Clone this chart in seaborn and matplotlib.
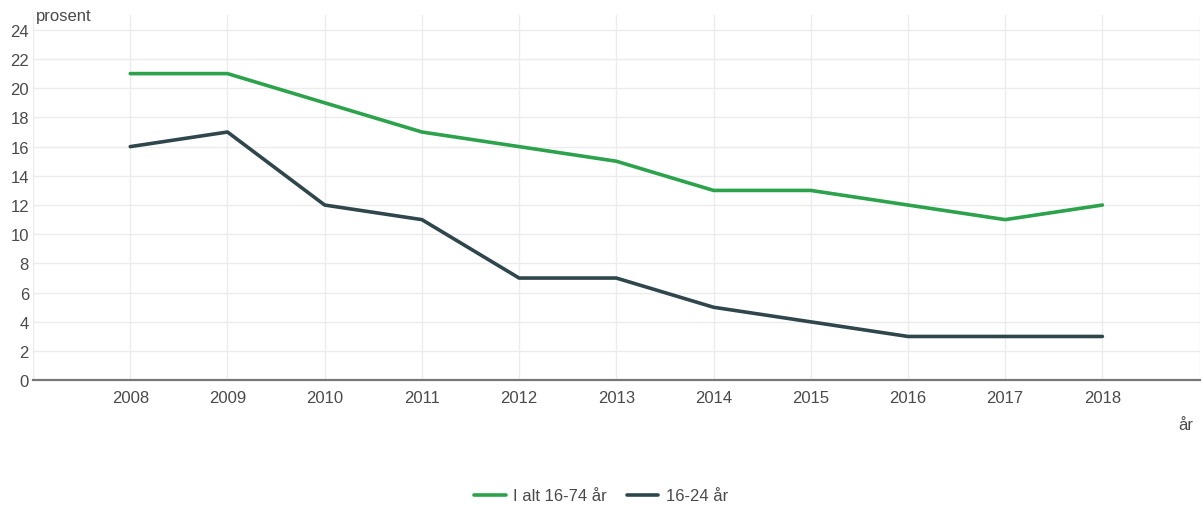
import matplotlib
matplotlib.use("Agg")
import matplotlib.pyplot as plt
import seaborn as sns
import pandas as pd

years = [2008, 2009, 2010, 2011, 2012, 2013, 2014, 2015, 2016, 2017, 2018]
total_16_74 = [21, 21, 19, 17, 16, 15, 13, 13, 12, 11, 12]
young_16_24 = [16, 17, 12, 11, 7, 7, 5, 4, 3, 3, 3]
series_names = ["I alt 16-74 år", "16-24 år"]
colors = ["#2ca24c", "#2f464c"]

df = pd.DataFrame({"år": years, series_names[0]: total_16_74, series_names[1]: young_16_24})
long = df.melt(id_vars="år", var_name="serie", value_name="prosent")

sns.set_style("white")
plt.rcParams["font.family"] = ["Liberation Sans", "DejaVu Sans"]
text_color = "#4a4a4a"
fs = 12

fig = plt.figure(figsize=(12.02, 5.06), dpi=100)
ax = fig.add_axes([0.0275, 0.2465, 0.9705, 0.7215])

sns.lineplot(data=long, x="år", y="prosent", hue="serie", palette=colors,
             linewidth=2.6, ax=ax, legend=False)

ax.set_xlim(2007, 2019)
ax.set_ylim(0, 25)
ax.set_xticks(range(2007, 2020))
ax.set_xticklabels([""] + [str(y) for y in years] + [""])
ax.set_yticks(range(0, 25, 2))
ax.grid(True, color="#ececec", linewidth=1)
ax.tick_params(axis="both", length=0, labelsize=fs, colors=text_color, pad=3)
ax.tick_params(axis="x", pad=7)
for s in ["top", "right", "left"]:
    ax.spines[s].set_visible(False)
ax.spines["bottom"].set_color("#777777")
ax.spines["bottom"].set_linewidth(1.6)
ax.set_xlabel("")
ax.set_ylabel("")

fig.text(36 / 1202, 1 - 17 / 506, "prosent", fontsize=fs, color=text_color, va="center", ha="left")
fig.text(1186 / 1202, 1 - 426 / 506, "år", fontsize=fs, color=text_color, va="center", ha="center")

handles = [plt.Line2D([], [], color=c, linewidth=2.6) for c in colors]
fig.legend(handles, series_names, loc="center", bbox_to_anchor=(0.5, 1 - 497 / 506),
           ncol=2, frameon=False, fontsize=fs, labelcolor=text_color,
           handlelength=1.9, columnspacing=1.2, handletextpad=0.45)

fig.savefig("out.png", dpi=100)
